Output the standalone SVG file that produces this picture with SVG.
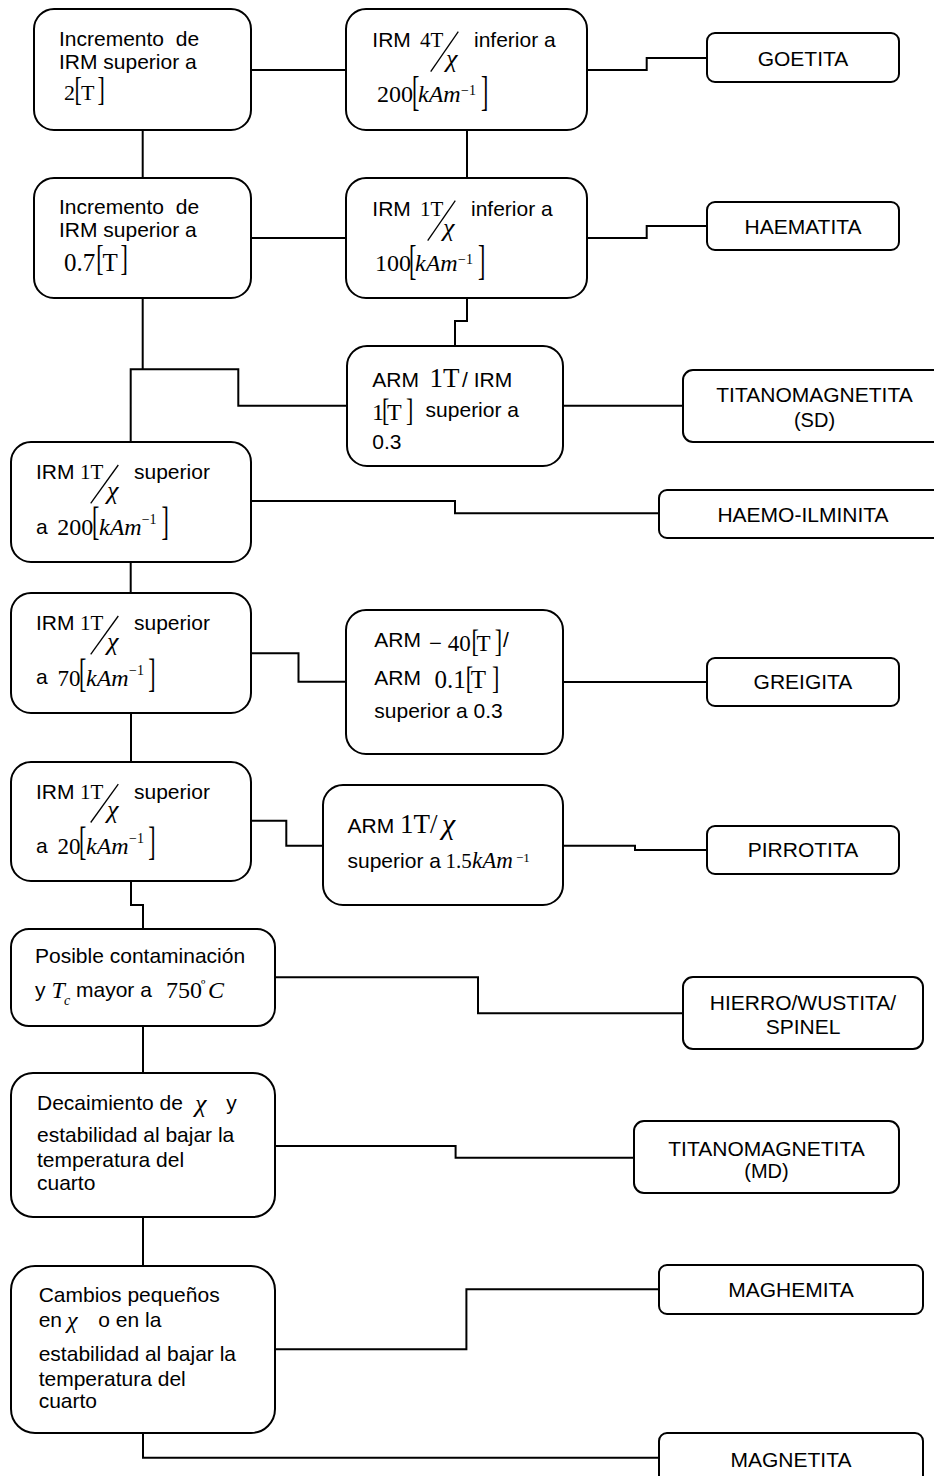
<svg xmlns="http://www.w3.org/2000/svg" width="934" height="1476" viewBox="0 0 934 1476">
<style>
.box{fill:#fff;stroke:#000;stroke-width:2}
.c{fill:none;stroke:#000;stroke-width:2}
.sl{stroke:#000;stroke-width:1.3}
text{fill:#000}
.s{font-family:"Liberation Sans",Arial,sans-serif;font-size:21px}
.ctr{text-anchor:middle}
.r{font-family:"Liberation Serif","Times New Roman",serif;font-size:22px}
.i{font-family:"Liberation Serif","Times New Roman",serif;font-style:italic;font-size:24px}
.sup{font-family:"Liberation Serif","Times New Roman",serif;font-size:14px}
.br{font-family:"Liberation Serif","Times New Roman",serif;font-size:22px}
</style>
<rect width="934" height="1476" fill="#fff"/>
<g id="connectors">
<path class="c" d="M251 70H346"/>
<path class="c" d="M142.7 130V178"/>
<path class="c" d="M251 238H346"/>
<path class="c" d="M467 130V178"/>
<path class="c" d="M587 70H646.7V58H707"/>
<path class="c" d="M587 238H646.7V226H707"/>
<path class="c" d="M467 298V321H455V346"/>
<path class="c" d="M142.7 298V369.3M130.7 442V369.3H238.3V405.7H347"/>
<path class="c" d="M563 405.7H683"/>
<path class="c" d="M251 501H455V513.3H659"/>
<path class="c" d="M130.7 562V593"/>
<path class="c" d="M251 653.3H298.5V681.7H346"/>
<path class="c" d="M563 682H707"/>
<path class="c" d="M131 713V762"/>
<path class="c" d="M251 820.7H286.3V845.7H323"/>
<path class="c" d="M563 845.7H635V850H707"/>
<path class="c" d="M131 881V905H143V929"/>
<path class="c" d="M275 977.3H478V1013.3H683"/>
<path class="c" d="M143 1026V1073"/>
<path class="c" d="M275 1146H455.6V1157.7H634"/>
<path class="c" d="M143 1217V1266"/>
<path class="c" d="M275 1349.3H466.4V1289.3H659"/>
<path class="c" d="M143 1433V1457.7H659"/>
</g>
<g id="nA">
<rect class="box" x="34" y="9" width="217" height="121" rx="20"/>
<text class="s" x="59" y="46" xml:space="preserve">Incremento  de</text>
<text class="s" x="59" y="69">IRM superior a</text>
<text class="r" x="64" y="100">2</text>
<text class="br" transform="translate(74.6 100) scale(1 1.5)">[</text>
<text class="r" x="81" y="100">T</text>
<text class="br" transform="translate(97.5 100) scale(1 1.5)">]</text>
</g>
<g id="nB">
<rect class="box" x="346" y="9" width="241" height="121" rx="20"/>
<text class="s" x="372.3" y="46.7">IRM</text>
<text class="r" x="420" y="46.7" style="font-size:21px">4T</text>
<line class="sl" x1="430.7" y1="71.7" x2="458.3" y2="31.7"/>
<text class="i" x="446" y="67" style="font-size:26px">χ</text>
<text class="s" x="474" y="46.7">inferior a</text>
<text class="r" x="377" y="102" style="font-size:24px">200</text>
<text class="br" transform="translate(412 105.1) scale(1 1.91)">[</text>
<text class="i" x="418" y="102">kAm</text>
<text class="sup" x="461" y="94.5">−1</text>
<text class="br" transform="translate(481 105.1) scale(1 1.91)">]</text>
</g>
<g id="nC">
<rect class="box" x="34" y="178" width="217" height="120" rx="20"/>
<text class="s" x="59" y="213.5" xml:space="preserve">Incremento  de</text>
<text class="s" x="59" y="236.7">IRM superior a</text>
<text class="r" x="64" y="270.7" style="font-size:25px">0.7</text>
<text class="br" transform="translate(96.3 270) scale(1 1.6)">[</text>
<text class="r" x="102.5" y="270.7" style="font-size:25px">T</text>
<text class="br" transform="translate(120.5 270) scale(1 1.6)">]</text>
</g>
<g id="nD">
<rect class="box" x="346" y="178" width="241" height="120" rx="20"/>
<text class="s" x="372.3" y="215.7">IRM</text>
<text class="r" x="420" y="215.7" style="font-size:21px">1T</text>
<line class="sl" x1="427.7" y1="240.7" x2="455.3" y2="200.7"/>
<text class="i" x="443" y="236" style="font-size:26px">χ</text>
<text class="s" x="471" y="215.7">inferior a</text>
<text class="r" x="375" y="271" style="font-size:24px">100</text>
<text class="br" transform="translate(409 274.1) scale(1 1.91)">[</text>
<text class="i" x="415" y="271">kAm</text>
<text class="sup" x="458" y="263.5">−1</text>
<text class="br" transform="translate(478 274.1) scale(1 1.91)">]</text>
</g>
<g id="nE">
<rect class="box" x="347" y="346" width="216" height="120" rx="20"/>
<text class="s" x="372.3" y="386.7">ARM</text>
<text class="r" x="429.4" y="386.7" style="font-size:27px">1T</text>
<text class="s" x="462" y="386.7">/ IRM</text>
<text class="r" x="372" y="420" style="font-size:24px">1</text>
<text class="br" transform="translate(382 421) scale(1 1.445)">[</text>
<text class="r" x="387" y="420" style="font-size:24px">T</text>
<text class="br" transform="translate(406 421) scale(1 1.445)">]</text>
<text class="s" x="425.6" y="416.7">superior a</text>
<text class="s" x="372.3" y="449.3">0.3</text>
</g>
<g id="nF">
<rect class="box" x="11" y="442" width="240" height="120" rx="20"/>
<text class="s" x="36" y="479.3">IRM</text>
<text class="r" x="80" y="479.3" style="font-size:21px">1T</text>
<line class="sl" x1="90.7" y1="503.3" x2="118.3" y2="465"/>
<text class="i" x="107" y="499" style="font-size:26px">χ</text>
<text class="s" x="134" y="479.3">superior</text>
<text class="s" x="36" y="534">a</text>
<text class="r" x="57.3" y="535" style="font-size:24px">200</text>
<text class="br" transform="translate(92.1 535.3) scale(1 1.855)">[</text>
<text class="i" x="99" y="535">kAm</text>
<text class="sup" x="141.7" y="524">−1</text>
<text class="br" transform="translate(161.5 535.3) scale(1 1.855)">]</text>
</g>
<g id="nG">
<rect class="box" x="11" y="593" width="240" height="120" rx="20"/>
<text class="s" x="36" y="630.3">IRM</text>
<text class="r" x="80" y="630.3" style="font-size:21px">1T</text>
<line class="sl" x1="90.7" y1="654.3" x2="118.3" y2="616"/>
<text class="i" x="107" y="650" style="font-size:26px">χ</text>
<text class="s" x="134" y="630.3">superior</text>
<text class="s" x="36" y="684">a</text>
<text class="r" x="57.4" y="685.5" style="font-size:23px">70</text>
<text class="br" transform="translate(79 686.5) scale(1 1.82)">[</text>
<text class="i" x="86" y="685.5">kAm</text>
<text class="sup" x="129" y="674.5">−1</text>
<text class="br" transform="translate(148.2 686.5) scale(1 1.82)">]</text>
</g>
<g id="nH">
<rect class="box" x="346" y="610" width="217" height="144" rx="20"/>
<text class="s" x="374.3" y="646.7">ARM</text>
<text class="r" x="429" y="650.7" style="font-size:23px">−</text>
<text class="r" x="447.8" y="650.7" style="font-size:23px">40</text>
<text class="br" transform="translate(471.5 652.4) scale(1 1.42)">[</text>
<text class="r" x="476.5" y="650.7" style="font-size:23px">T</text>
<text class="br" transform="translate(494.8 652.4) scale(1 1.42)">]</text>
<text class="s" x="503" y="646.7">/</text>
<text class="s" x="374.3" y="685">ARM</text>
<text class="r" x="434.4" y="688.3" style="font-size:25px">0.1</text>
<text class="br" transform="translate(465.8 688.5) scale(1 1.39)">[</text>
<text class="r" x="470.7" y="688.3" style="font-size:25px">T</text>
<text class="br" transform="translate(492 688.5) scale(1 1.39)">]</text>
<text class="s" x="374.3" y="718.3">superior a 0.3</text>
</g>
<g id="nI">
<rect class="box" x="11" y="762" width="240" height="119" rx="20"/>
<text class="s" x="36" y="798.5">IRM</text>
<text class="r" x="80" y="798.5" style="font-size:21px">1T</text>
<line class="sl" x1="90.7" y1="822.5" x2="118.3" y2="784.2"/>
<text class="i" x="107" y="818.2" style="font-size:26px">χ</text>
<text class="s" x="134" y="798.5">superior</text>
<text class="s" x="36" y="852.5">a</text>
<text class="r" x="57.4" y="853.8" style="font-size:23px">20</text>
<text class="br" transform="translate(79 854.5) scale(1 1.82)">[</text>
<text class="i" x="86" y="853.8">kAm</text>
<text class="sup" x="129" y="842.8">−1</text>
<text class="br" transform="translate(148.2 854.5) scale(1 1.82)">]</text>
</g>
<g id="nJ">
<rect class="box" x="323" y="785" width="240" height="120" rx="20"/>
<text class="s" x="347.5" y="833.3">ARM</text>
<text class="r" x="400" y="833.3" style="font-size:27px">1T/</text>
<text class="i" x="442" y="834" style="font-size:30px">χ</text>
<text class="s" x="347.5" y="868.3">superior a</text>
<text class="r" x="445.5" y="868.3" style="font-size:21px">1.5</text>
<text class="i" x="472" y="868.3" style="font-size:23px">kAm</text>
<text class="sup" x="516" y="861.5" style="font-size:13px">−1</text>
</g>
<g id="nK">
<rect class="box" x="11" y="929" width="264" height="97" rx="18"/>
<text class="s" x="35" y="962.5">Posible contaminación</text>
<text class="s" x="35" y="996.7">y</text>
<text class="i" x="51.5" y="997.7">T</text>
<text class="i" x="64" y="1004.5" style="font-size:14px">c</text>
<text class="s" x="76" y="996.7">mayor a</text>
<text class="r" x="166" y="997.7" style="font-size:24px">750</text>
<text class="r" x="201" y="990" style="font-size:14px">º</text>
<text class="i" x="208" y="997.7">C</text>
</g>
<g id="nL">
<rect class="box" x="11" y="1073" width="264" height="144" rx="22"/>
<text class="s" x="37" y="1110">Decaimiento de</text>
<text class="i" x="195" y="1112" style="font-size:26px">χ</text>
<text class="s" x="226.3" y="1110">y</text>
<text class="s" x="37" y="1141.7">estabilidad al bajar la</text>
<text class="s" x="37" y="1166.7">temperatura del</text>
<text class="s" x="37" y="1190">cuarto</text>
</g>
<g id="nM">
<rect class="box" x="11" y="1266" width="264" height="167" rx="24"/>
<text class="s" x="38.7" y="1301.7">Cambios pequeños</text>
<text class="s" x="38.7" y="1327.3">en</text>
<text class="i" x="67" y="1328">χ</text>
<text class="s" x="98.3" y="1327.3">o en la</text>
<text class="s" x="38.7" y="1361">estabilidad al bajar la</text>
<text class="s" x="38.7" y="1386">temperatura del</text>
<text class="s" x="38.7" y="1408.3">cuarto</text>
</g>
<g id="goetita">
<rect class="box" x="707" y="33" width="192" height="49" rx="8"/>
<text class="s ctr" x="803" y="66">GOETITA</text>
</g>
<g id="haematita">
<rect class="box" x="707" y="202" width="192" height="48" rx="8"/>
<text class="s ctr" x="803" y="234.3">HAEMATITA</text>
</g>
<g id="titanoSD">
<rect class="box" x="683" y="370" width="263" height="72" rx="10"/>
<text class="s ctr" x="814.5" y="401.7">TITANOMAGNETITA</text>
<text class="s ctr" x="814.5" y="426.7" style="font-size:20px">(SD)</text>
</g>
<g id="haemoilminita">
<rect class="box" x="659" y="490" width="288" height="48" rx="8"/>
<text class="s ctr" x="803" y="521.7">HAEMO-ILMINITA</text>
</g>
<g id="greigita">
<rect class="box" x="707" y="658" width="192" height="48" rx="8"/>
<text class="s ctr" x="803" y="689.3">GREIGITA</text>
</g>
<g id="pirrotita">
<rect class="box" x="707" y="826" width="192" height="48" rx="8"/>
<text class="s ctr" x="803" y="857.3">PIRROTITA</text>
</g>
<g id="hierro">
<rect class="box" x="683" y="977" width="240" height="72" rx="10"/>
<text class="s ctr" x="803" y="1010">HIERRO/WUSTITA/</text>
<text class="s ctr" x="803" y="1034.3">SPINEL</text>
</g>
<g id="titanoMD">
<rect class="box" x="634" y="1121" width="265" height="72" rx="10"/>
<text class="s ctr" x="766.5" y="1156">TITANOMAGNETITA</text>
<text class="s ctr" x="766.5" y="1178.3" style="font-size:20px">(MD)</text>
</g>
<g id="maghemita">
<rect class="box" x="659" y="1265" width="264" height="49" rx="8"/>
<text class="s ctr" x="791" y="1296.7">MAGHEMITA</text>
</g>
<g id="magnetita">
<rect class="box" x="659" y="1433" width="264" height="60" rx="8"/>
<text class="s ctr" x="791" y="1467.3">MAGNETITA</text>
</g>
</svg>
